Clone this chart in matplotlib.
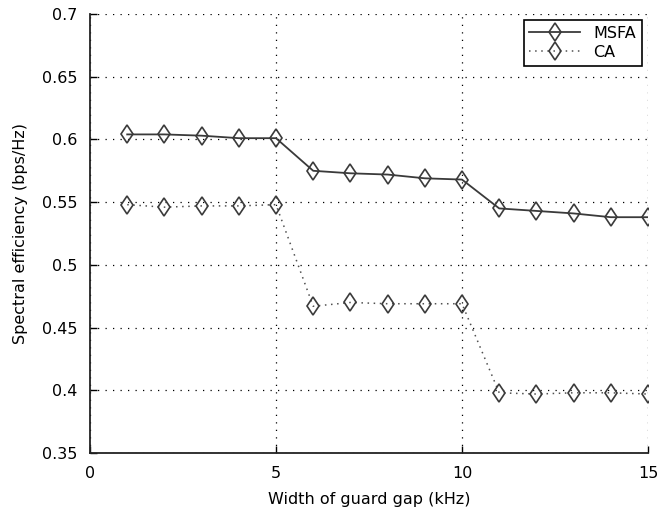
import matplotlib
matplotlib.use("Agg")
import matplotlib.pyplot as plt

x = list(range(1, 16))
msfa = [0.604, 0.604, 0.603, 0.601, 0.601, 0.575, 0.573, 0.572, 0.569, 0.568,
        0.545, 0.543, 0.541, 0.538, 0.538]
ca = [0.548, 0.546, 0.547, 0.547, 0.548, 0.467, 0.470, 0.469, 0.469, 0.469,
      0.398, 0.397, 0.398, 0.398, 0.397]
xticks = [0, 5, 10, 15]
yticks = [0.35, 0.4, 0.45, 0.5, 0.55, 0.6, 0.65, 0.7]
ytick_labels = ["0.35", "0.4", "0.45", "0.5", "0.55", "0.6", "0.65", "0.7"]

plt.rcParams['font.family'] = ['DejaVu Sans']
fs = 11.5

fig = plt.figure(figsize=(6.57, 5.14), dpi=100)
ax = fig.add_axes([90/657, 1-453/514, (648-90)/657, (453-14)/514])

ax.plot(x, msfa, '-', color='#3a3a3a', lw=1.3, marker='d', markersize=9.5,
        markerfacecolor='none', markeredgecolor='#3a3a3a', markeredgewidth=1.2,
        label='MSFA', zorder=3)
ax.plot(x, ca, color='#505050', lw=1.1, linestyle=(0, (1, 3)), marker='d', markersize=9.5,
        markerfacecolor='none', markeredgecolor='#3a3a3a', markeredgewidth=1.2,
        label='CA', zorder=3)

ax.set_xlim(0, 15)
ax.set_ylim(0.35, 0.7)
ax.set_xticks(xticks)
ax.set_yticks(yticks)
ax.set_yticklabels(ytick_labels)
ax.tick_params(direction='in', length=5, width=1, labelsize=fs, colors='black',
               top=False, right=False, pad=9)
ax.grid(True, color='black', linestyle=(0, (1, 5)), linewidth=0.9)
for s in ['top', 'right']:
    ax.spines[s].set_visible(False)
for s in ['left', 'bottom']:
    ax.spines[s].set_linewidth(1.3)
    ax.spines[s].set_color('#222222')

ax.set_xlabel('Width of guard gap (kHz)', fontsize=fs, labelpad=8)
ax.set_ylabel('Spectral efficiency (bps/Hz)', fontsize=fs, labelpad=10)

leg = ax.legend(loc='upper right', fontsize=fs, frameon=True, fancybox=False,
                edgecolor='black', framealpha=1, borderpad=0.35, handlelength=3.2,
                labelspacing=0.25, borderaxespad=0.4)
leg.get_frame().set_linewidth(1.2)

fig.savefig('out.png', dpi=100)
